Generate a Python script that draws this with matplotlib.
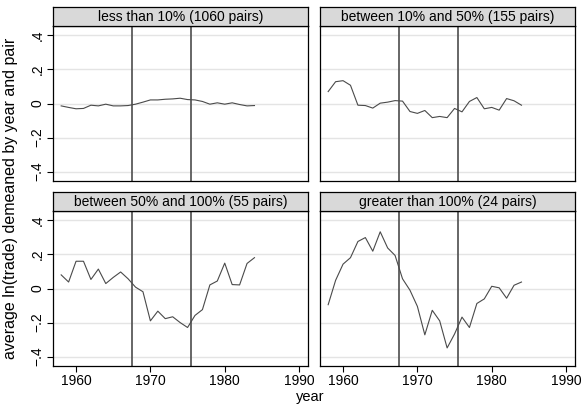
import matplotlib
matplotlib.use("Agg")
import matplotlib.pyplot as plt

plt.rcParams['font.family'] = ['Liberation Sans', 'DejaVu Sans']

years = list(range(1958, 1985))

titles = ["less than 10% (1060 pairs)", "between 10% and 50% (155 pairs)",
          "between 50% and 100% (55 pairs)", "greater than 100% (24 pairs)"]

less10 = [-0.014, -0.023, -0.031, -0.029, -0.010, -0.014, -0.004, -0.014, -0.014,
          -0.012, -0.004, 0.008, 0.021, 0.021, 0.025, 0.027, 0.031, 0.023, 0.021,
          0.012, -0.004, 0.004, -0.004, 0.004, -0.006, -0.014, -0.012]
b10_50 = [0.070, 0.128, 0.134, 0.107, -0.010, -0.012, -0.027, 0.002, 0.008,
          0.017, 0.014, -0.047, -0.058, -0.041, -0.083, -0.076, -0.083, -0.029, -0.049,
          0.012, 0.035, -0.031, -0.023, -0.039, 0.029, 0.016, -0.010]
b50_100 = [0.080, 0.038, 0.160, 0.160, 0.053, 0.114, 0.029, 0.065, 0.097,
           0.057, 0.008, -0.019, -0.190, -0.133, -0.177, -0.166, -0.200, -0.229, -0.158,
           -0.124, 0.021, 0.044, 0.149, 0.023, 0.021, 0.147, 0.181]
gt100 = [-0.095, 0.048, 0.143, 0.181, 0.276, 0.299, 0.219, 0.333, 0.238,
         0.194, 0.057, -0.010, -0.105, -0.272, -0.128, -0.190, -0.349, -0.267, -0.168,
         -0.229, -0.088, -0.061, 0.013, 0.004, -0.057, 0.019, 0.038]

series = [less10, b10_50, b50_100, gt100]
vlines = [1967.5, 1975.5]
yticks = [-0.4, -0.2, 0, 0.2, 0.4]
ytick_labels = ["\u2212.4", "\u2212.2", "0", ".2", ".4"]
xticks = [1960, 1970, 1980, 1990]
xtick_labels = ["1960", "1970", "1980", "1990"]

W, H = 582, 407
fig = plt.figure(figsize=(W / 100, H / 100), dpi=100)

lefts = [53, 320]
width = 255
tops = [26, 211]
height = 155
hdr = 19

for i, (title, vals) in enumerate(zip(titles, series)):
    r, c = divmod(i, 2)
    x0 = lefts[c]
    y0 = tops[r]
    ax = fig.add_axes([x0 / W, 1 - (y0 + height) / H, width / W, height / H])
    ax.set_xlim(1956.9, 1991.2)
    ax.set_ylim(-0.455, 0.455)
    for yv in yticks:
        ax.axhline(yv, color="#e4e4e4", lw=1.0, zorder=0)
    for xv in vlines:
        ax.axvline(xv, color="#5a5a5a", lw=1.3, zorder=1)
    ax.plot(years, vals, color="#4a4a4a", lw=0.8, zorder=2)
    for s in ax.spines.values():
        s.set_color("black")
        s.set_linewidth(0.9)
    ax.set_yticks(yticks)
    ax.set_xticks(xticks)
    if c == 0:
        ax.set_yticklabels(ytick_labels, rotation=90, va="center", fontsize=10)
        ax.tick_params(axis="y", length=4, width=0.8, pad=2)
    else:
        ax.tick_params(axis="y", length=0, labelleft=False)
    if r == 1:
        ax.set_xticklabels(xtick_labels, fontsize=10)
        ax.tick_params(axis="x", length=4, width=0.8, pad=2)
    else:
        ax.tick_params(axis="x", length=0, labelbottom=False)
    # header strip
    hax = fig.add_axes([x0 / W, 1 - y0 / H, width / W, hdr / H])
    hax.set_xticks([])
    hax.set_yticks([])
    hax.set_facecolor("#d9d9d9")
    for s in hax.spines.values():
        s.set_color("black")
        s.set_linewidth(0.9)
    hax.text(0.5, 0.45, title, ha="center", va="center", fontsize=10,
             transform=hax.transAxes)

fig.text(310 / W, 1 - 397 / H, "year", ha="center", va="center", fontsize=10.5)
fig.text(11 / W, 1 - 198 / H, "average ln(trade) demeaned by year and pair",
         ha="center", va="center", rotation=90, fontsize=11.5)

fig.savefig("out.png", dpi=100, facecolor="white")
